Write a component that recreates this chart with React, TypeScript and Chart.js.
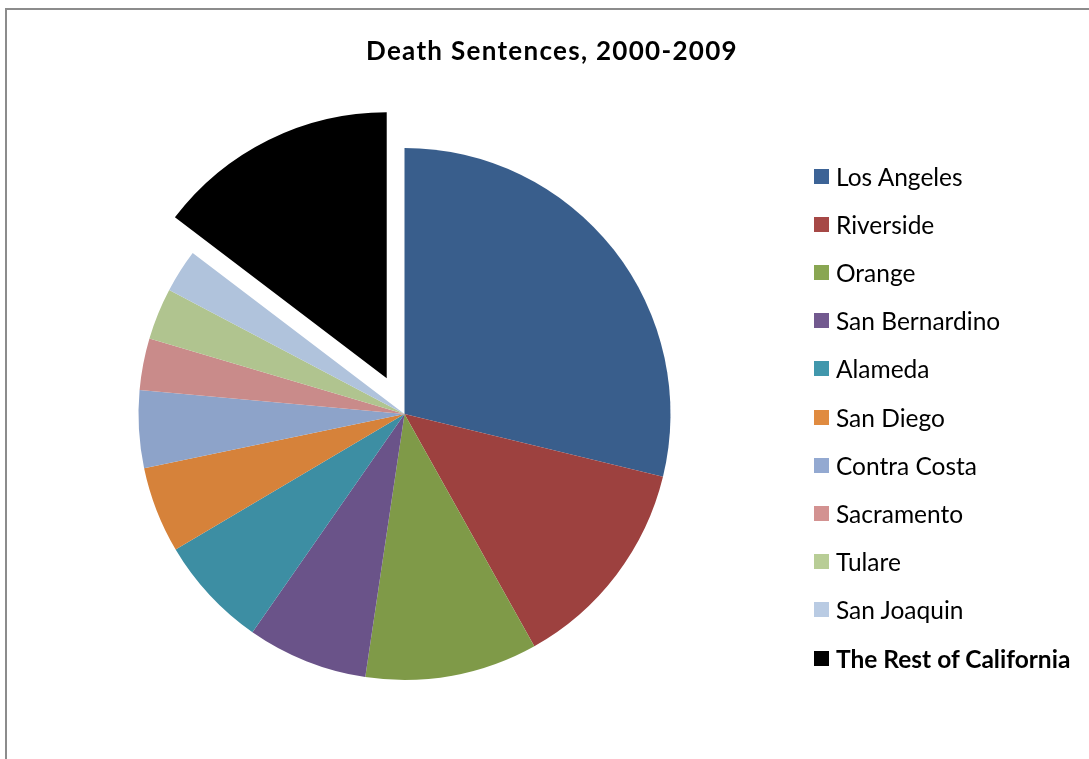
import React, { useEffect, useRef } from "react";
import { Chart, registerables } from "chart.js";

Chart.register(...registerables);

const TITLE = "Death Sentences, 2000-2009";
const COUNTIES = [
  "Los Angeles",
  "Riverside",
  "Orange",
  "San Bernardino",
  "Alameda",
  "San Diego",
  "Contra Costa",
  "Sacramento",
  "Tulare",
  "San Joaquin",
  "The Rest of California",
];
const SENTENCES = [55, 25, 20, 14, 13, 10, 9, 6, 6, 5, 28];
const SLICE_COLORS = [
  "#395E8C",
  "#9D413F",
  "#7F9A48",
  "#6A5389",
  "#3D8EA3",
  "#D6823A",
  "#8DA3C9",
  "#C98B8A",
  "#B0C48F",
  "#B0C3DC",
  "#000000",
];
const LEGEND_COLORS = [
  "#3C6396",
  "#A64846",
  "#89A652",
  "#72598F",
  "#4197AC",
  "#E08B40",
  "#93A9D1",
  "#D39291",
  "#B8CD96",
  "#B9CBE3",
  "#000000",
];
const EXPLODE = [0, 0, 0, 0, 0, 0, 0, 0, 0, 0, 40];

const explodePlugin = {
  id: "explodeSlices",
  beforeDatasetDraw(chart: any, args: any) {
    args.meta.data.forEach((arc: any, i: number) => {
      const d = EXPLODE[i] || 0;
      arc._ox = arc.x;
      arc._oy = arc.y;
      if (!d) return;
      const mid = (arc.startAngle + arc.endAngle) / 2;
      arc.x += Math.cos(mid) * d;
      arc.y += Math.sin(mid) * d;
    });
  },
  afterDatasetDraw(chart: any, args: any) {
    args.meta.data.forEach((arc: any) => {
      if (arc._ox !== undefined) {
        arc.x = arc._ox;
        arc.y = arc._oy;
      }
    });
  },
};

const FONT = "Lato, 'Open Sans', sans-serif";

export default function App() {
  const canvasRef = useRef<HTMLCanvasElement | null>(null);

  useEffect(() => {
    if (!canvasRef.current) return;
    const chart = new Chart(canvasRef.current, {
      type: "pie",
      data: {
        labels: COUNTIES,
        datasets: [
          {
            data: SENTENCES,
            backgroundColor: SLICE_COLORS,
            borderWidth: 0,
          },
        ],
      },
      options: {
        animation: false,
        responsive: false,
        maintainAspectRatio: false,
        devicePixelRatio: 1,
        radius: 266,
        layout: { padding: { left: 0, right: 280, top: 69, bottom: 0 } },
        plugins: {
          legend: { display: false },
          title: { display: false },
        },
      } as any,
      plugins: [explodePlugin],
    });
    return () => chart.destroy();
  }, []);

  return (
    <div
      style={{
        position: "absolute",
        left: 0,
        top: 0,
        width: 1089,
        height: 759,
        background: "#ffffff",
        overflow: "hidden",
      }}
    >
      <div
        style={{
          position: "absolute",
          left: 5,
          top: 8,
          width: 1200,
          height: 900,
          borderTop: "2px solid #8c8c8c",
          borderLeft: "2px solid #8c8c8c",
        }}
      />
      <canvas
        ref={canvasRef}
        width={1089}
        height={759}
        style={{ position: "absolute", left: 0, top: 0, width: 1089, height: 759 }}
      />
      <div
        style={{
          position: "absolute",
          left: 252,
          width: 600,
          top: 34,
          textAlign: "center",
          fontFamily: FONT,
          fontWeight: 700,
          fontSize: 26,
          letterSpacing: 1.3,
          lineHeight: "32px",
          color: "#000",
        }}
      >
        {TITLE}
      </div>
      {COUNTIES.map((name, i) => (
        <div
          key={name}
          style={{
            position: "absolute",
            left: 814,
            top: 177 + i * 48.2 - 16,
            height: 30,
            display: "flex",
            alignItems: "center",
            fontFamily: FONT,
            fontSize: 24.5,
            fontWeight: i === COUNTIES.length - 1 ? 700 : 400,
            color: "#000",
            whiteSpace: "nowrap",
          }}
        >
          <span
            style={{
              display: "inline-block",
              width: 15,
              height: 15,
              background: LEGEND_COLORS[i],
              marginRight: 7,
            }}
          />
          <span>{name}</span>
        </div>
      ))}
    </div>
  );
}
